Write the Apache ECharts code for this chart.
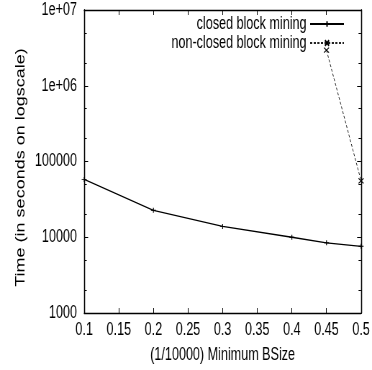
<!DOCTYPE html>
<html><head><meta charset="utf-8">
<script src="https://cdn.jsdelivr.net/npm/echarts@6/dist/echarts.min.js"></script>
<style>
html,body{margin:0;padding:0;overflow:hidden;background:#fff;width:372px;height:370px}
/* the chart is laid out wide and condensed horizontally, giving the narrow lettering */
#chart{width:517px;height:370px;transform:scaleX(0.7195);transform-origin:0 0}
</style></head><body><div id="chart"></div>
<script>
// Minimum BSize (in 1/10000) and run time in seconds
const closedBSize = [0.1, 0.2, 0.3, 0.4, 0.45, 0.5];
const closedTimes = [58000, 22700, 13900, 10000, 8450, 7600];
const nonClosedBSize = [0.45, 0.5];
const nonClosedTimes = [2950000, 55500];

const seriesNames = ['closed block mining', 'non-closed block mining'];
const xTickStep = 0.05;
const xMin = 0.1, xMax = 0.5;
const yTicks = [1000, 10000, 100000, 1000000, 10000000];
const yTickLabels = ['1000', '10000', '100000', '1e+06', '1e+07'];
const yMinorTicks = [2000, 5000, 20000, 50000, 200000, 500000, 2000000, 5000000];
const xTitle = '(1/10000) Minimum BSize';
const yTitle = 'Time (in seconds on logscale)';

const FONT = "'Liberation Sans', Arial, Helvetica, sans-serif";
const FS = 17.5;
const AXIS_LINE = { show: true, onZero: false, lineStyle: { color: '#000', width: 1.3 } };

const pair = (xs, ys) => xs.map((x, i) => [x, ys[i]]);

function yAxisDef(position, ticks, len, withLabels) {
  return {
    type: 'log', logBase: 10, min: yTicks[0], max: yTicks[yTicks.length - 1],
    position: position, offset: 0,
    axisLine: AXIS_LINE,
    splitLine: { show: false },
    axisTick: { show: true, inside: true, length: len, customValues: ticks,
      lineStyle: { color: '#000', width: 1 } },
    axisLabel: withLabels ? {
      show: true, customValues: yTicks, margin: 10,
      color: '#000', fontFamily: FONT, fontSize: FS,
      formatter: v => yTickLabels[yTicks.indexOf(Math.round(v))] || ''
    } : { show: false },
    name: withLabels ? yTitle : '',
    nameLocation: 'middle', nameGap: 78, nameRotate: 90,
    nameTextStyle: { color: '#000', fontFamily: FONT, fontSize: 18, padding: [0, 12, 0, 0] }
  };
}

function xAxisDef(position, withLabels) {
  return {
    type: 'value', min: xMin, max: xMax, interval: xTickStep,
    position: position, offset: 0,
    axisLine: AXIS_LINE,
    splitLine: { show: false },
    axisTick: { show: true, inside: true, length: 5, lineStyle: { color: '#000', width: 1 } },
    axisLabel: withLabels ? {
      show: true, margin: 8, color: '#000', fontFamily: FONT, fontSize: FS,
      formatter: v => String(+v.toFixed(2))
    } : { show: false },
    name: withLabels ? xTitle : '',
    nameLocation: 'middle', nameGap: 33,
    nameTextStyle: { color: '#000', fontFamily: FONT, fontSize: FS }
  };
}

const chart = echarts.init(document.getElementById('chart'), null, { renderer: 'canvas', width: 517, height: 370 });
chart.setOption({
  animation: false,
  backgroundColor: '#fff',
  grid: { left: 117, right: 14, top: 10, bottom: 57, containLabel: false },
  legend: {
    orient: 'vertical', align: 'right', right: 33, top: 10,
    itemWidth: 47, itemHeight: 7, itemGap: 1,
    textStyle: { color: '#000', fontFamily: FONT, fontSize: FS },
    data: seriesNames
  },
  xAxis: [xAxisDef('bottom', true), xAxisDef('top', false)],
  yAxis: [
    yAxisDef('left', yTicks, 5.5, true),
    yAxisDef('left', yMinorTicks, 3.5, false),
    yAxisDef('right', yTicks, 5.5, false),
    yAxisDef('right', yMinorTicks, 3.5, false)
  ],
  series: [
    {
      name: seriesNames[0], type: 'line', xAxisIndex: 0, yAxisIndex: 0,
      data: pair(closedBSize, closedTimes),
      symbol: 'path://M0,5L10,5M5,0L5,10', symbolSize: [7, 5],
      itemStyle: { color: '#000', borderColor: '#000', borderWidth: 1 },
      lineStyle: { color: '#000', width: 1.3 }
    },
    {
      name: seriesNames[1], type: 'line', xAxisIndex: 0, yAxisIndex: 0,
      data: pair(nonClosedBSize, nonClosedTimes),
      symbol: 'path://M0,0L10,10M10,0L0,10', symbolSize: [7, 5],
      itemStyle: { color: '#000', borderColor: '#000', borderWidth: 1 },
      lineStyle: { color: '#222', width: 1, type: [3, 2] }
    }
  ]
});
</script></body></html>
